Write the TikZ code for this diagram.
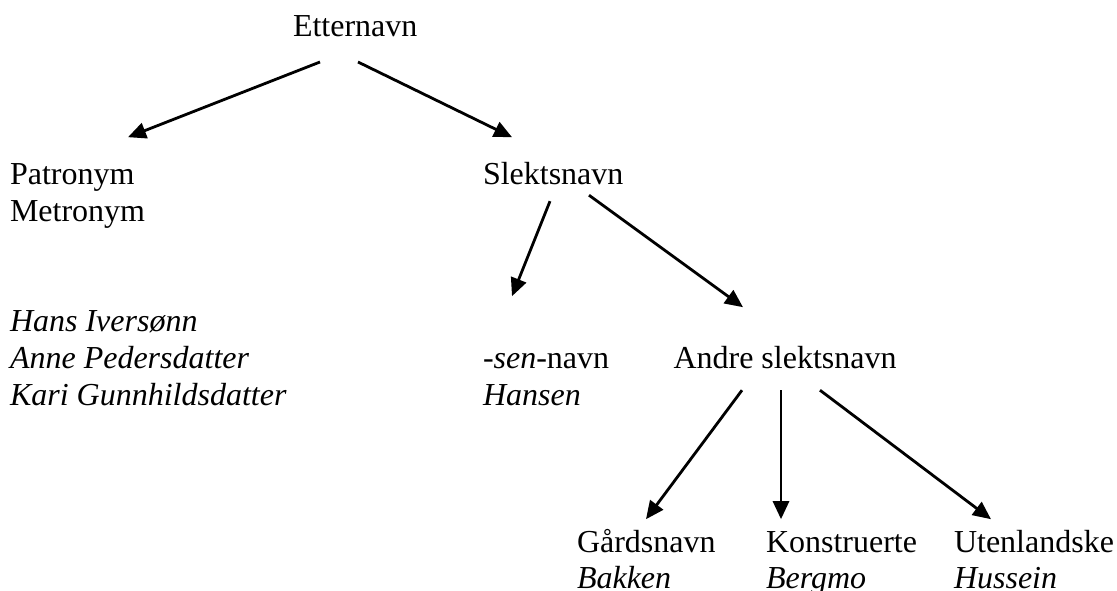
\documentclass[tikz,border=0pt]{standalone}
\usepackage{fontspec}
\setmainfont{Liberation Serif}
\usetikzlibrary{arrows.meta}
\begin{document}
\begin{tikzpicture}[x=1pt,y=-1pt,
  lbl/.style={anchor=base west,inner sep=0pt,outer sep=0pt,font=\fontsize{32}{37}\selectfont},
  arr/.style={line width=2.8pt,-{Triangle[length=18pt,width=16pt]}}]
\useasboundingbox (0,0) rectangle (1117,591);
\clip (0,0) rectangle (1117,591);
% row baselines
\node[lbl] (etter) at (293,37) {Etternavn};
\node[lbl] (pat) at (10,184.2) {Patronym};
\node[lbl] (met) at (10,221) {Metronym};
\node[lbl] (slekt) at (483,184.2) {Slektsnavn};
\node[lbl] (hans) at (10,331.4) {\textit{Hans Iversønn}};
\node[lbl] (anne) at (10,368.2) {\textit{Anne Pedersdatter}};
\node[lbl] (kari) at (10,405) {\textit{Kari Gunnhildsdatter}};
\node[lbl] (sen) at (483,368.2) {-\textit{sen}-navn};
\node[lbl] (hansen) at (483,405) {\textit{Hansen}};
\node[lbl] (andre) at (673.5,368.2) {Andre slektsnavn};
\node[lbl] (gard) at (577,552.2) {Gårdsnavn};
\node[lbl] (bakken) at (577,588.5) {\textit{Bakken}};
\node[lbl] (kons) at (766,552.2) {Konstruerte};
\node[lbl] (bergmo) at (766,588.5) {\textit{Bergmo}};
\node[lbl] (uten) at (954,552.2) {Utenlandske};
\node[lbl] (hussein) at (954,588.5) {\textit{Hussein}};
% connectors
\draw[arr] ([xshift=27pt,yshift=-25pt]etter.base west) -- ([xshift=118pt,yshift=47pt]pat.base west);
\draw[arr] ([xshift=65pt,yshift=-25pt]etter.base west) -- ([xshift=29pt,yshift=47pt]slekt.base west);
\draw[arr] ([xshift=67pt,yshift=-17pt]slekt.base west) -- ([xshift=29pt,yshift=72pt]sen.base west);
\draw[arr] ([xshift=106pt,yshift=-11pt]slekt.base west) -- ([xshift=69.5pt,yshift=61pt]andre.base west);
\draw[arr] ([xshift=68.5pt,yshift=-22pt]andre.base west) -- ([xshift=69pt,yshift=33pt]gard.base west);
\draw[arr] ([xshift=107.5pt,yshift=-22pt]andre.base west) -- ([xshift=15pt,yshift=33pt]kons.base west);
\draw[arr] ([xshift=146.5pt,yshift=-22pt]andre.base west) -- ([xshift=37pt,yshift=33pt]uten.base west);
\end{tikzpicture}
\end{document}
